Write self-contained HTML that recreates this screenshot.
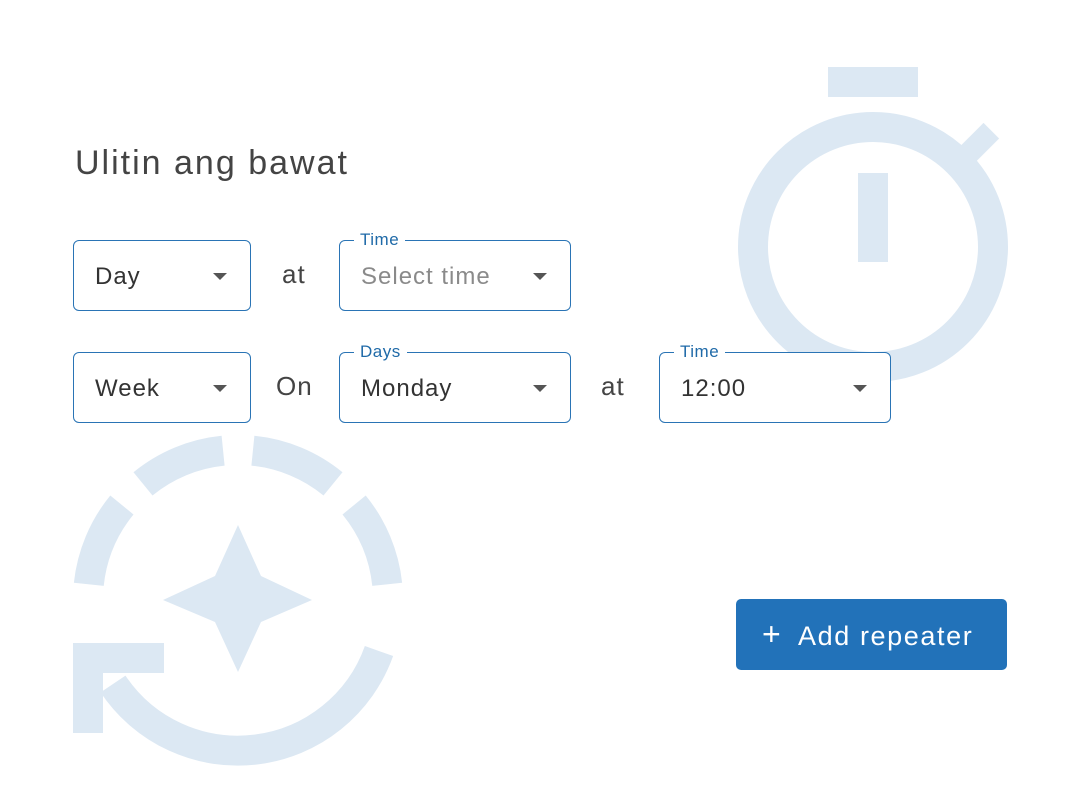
<!DOCTYPE html>
<html><head><meta charset="utf-8"><style>
html,body{margin:0;padding:0;background:#fff;width:1080px;height:810px;overflow:hidden;font-family:"Liberation Sans",sans-serif;}
.abs{position:absolute;}
.box{position:absolute;border:1.5px solid #2a74b5;border-radius:6px;background:#fff;box-sizing:border-box;height:71px;}
.val{position:absolute;left:21px;top:22px;font-size:24px;color:#333;white-space:nowrap;letter-spacing:1px;}
.car{position:absolute;top:32px;width:0;height:0;border-left:7px solid transparent;border-right:7px solid transparent;border-top:7px solid #555;}
.lab{position:absolute;top:-11px;left:14px;background:#fff;padding:0 6px;font-size:17px;color:#1f6aa8;line-height:20px;letter-spacing:0.5px;}
.word{position:absolute;font-size:26px;color:#444;letter-spacing:1px;}
</style></head><body>
<svg class="abs" style="left:0;top:0" width="1080" height="810">
 <g fill="none" stroke="#dce8f3" stroke-width="30">
  <circle cx="873" cy="247" r="120"/>
  <path d="M88.8 584.3 A150 150 0 0 1 121.9 505"/>
  <path d="M143 483.9 A150 150 0 0 1 223.1 450.7"/>
  <path d="M252.9 450.7 A150 150 0 0 1 333 483.9"/>
  <path d="M354.1 505 A150 150 0 0 1 387.2 584.3"/>
  <path d="M379 651 A150 150 0 0 1 113 684"/>
 </g>
 <g fill="#dce8f3">
  <rect x="828" y="67" width="90" height="30"/>
  <rect x="858" y="173" width="30" height="89"/>
  <rect x="969" y="126" width="22" height="32" transform="rotate(45 980 142)"/>
  <rect x="73" y="643" width="30" height="90"/>
  <rect x="73" y="643" width="91" height="30"/>
  <polygon points="238,525 261,576 312,600 261,622 238,672 215,622 163,600 215,576"/>
 </g>
</svg>
<div class="abs" style="left:75px;top:144px;font-size:34px;color:#444;letter-spacing:2px;">Ulitin ang bawat</div>

<div class="box" style="left:73px;top:240px;width:178px;"><div class="val">Day</div><div class="car" style="left:139px"></div></div>
<div class="word" style="left:282px;top:259px;">at</div>
<div class="box" style="left:339px;top:240px;width:232px;"><div class="lab">Time</div><div class="val" style="color:#8a8a8a">Select time</div><div class="car" style="left:193px"></div></div>

<div class="box" style="left:73px;top:352px;width:178px;"><div class="val">Week</div><div class="car" style="left:139px"></div></div>
<div class="word" style="left:276px;top:371px;">On</div>
<div class="box" style="left:339px;top:352px;width:232px;"><div class="lab">Days</div><div class="val">Monday</div><div class="car" style="left:193px"></div></div>
<div class="word" style="left:601px;top:371px;">at</div>
<div class="box" style="left:659px;top:352px;width:232px;"><div class="lab">Time</div><div class="val">12:00</div><div class="car" style="left:193px"></div></div>

<div class="abs" style="left:736px;top:599px;width:271px;height:71px;background:#2272b9;border-radius:5px;color:#fff;font-size:27px;line-height:71px;">
 <span class="abs" style="left:26px;top:0px;font-size:32px;">+</span>
 <span class="abs" style="left:62px;top:2px;letter-spacing:1.6px;">Add repeater</span>
</div>
</body></html>
